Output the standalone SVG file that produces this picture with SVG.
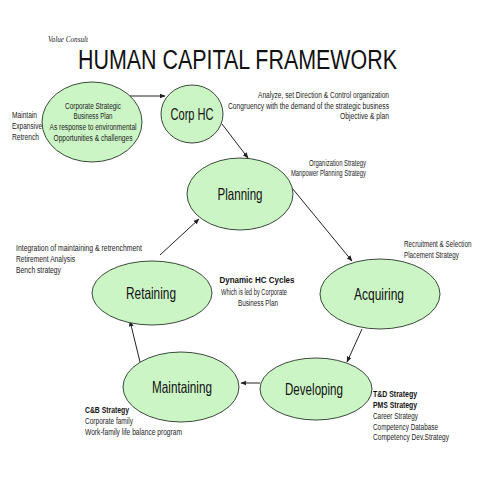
<svg xmlns="http://www.w3.org/2000/svg" width="480" height="480" viewBox="0 0 480 480">
<style>
.node{fill:#ccf5c6;stroke:#3a4a3a;stroke-width:1}
.lbl{font-family:"Liberation Sans",Arial,sans-serif;font-size:16.5px;fill:#111;text-anchor:middle}
.t{font-family:"Liberation Sans",Arial,sans-serif;font-size:8.5px;fill:#222}
.b{font-weight:bold;fill:#111}
.m{text-anchor:middle}
.e{text-anchor:end}
.conn line{stroke:#222;stroke-width:1;marker-end:url(#ah)}
</style>
<defs>
<marker id="ah" viewBox="0 0 10 10" refX="9" refY="5" markerWidth="6" markerHeight="6" orient="auto" markerUnits="userSpaceOnUse">
<path d="M0,1 L10,5 L0,9 z" fill="#222"/>
</marker>
</defs>
<rect width="480" height="480" fill="#fff"/>
<text x="48" y="42" font-family="Liberation Serif,serif" font-style="italic" font-size="9" fill="#222" textLength="40" lengthAdjust="spacingAndGlyphs">Value Consult</text>
<text x="78" y="69" font-family="Liberation Sans,Arial,sans-serif" font-size="27" fill="#111" textLength="319" lengthAdjust="spacingAndGlyphs">HUMAN CAPITAL FRAMEWORK</text>

<g id="conns" class="conn">
<line x1="125" y1="96" x2="165" y2="96"/>
<line x1="222" y1="124" x2="248" y2="158"/>
<line x1="292" y1="188" x2="352" y2="261"/>
<line x1="362" y1="329" x2="347" y2="362"/>
<line x1="260" y1="383" x2="241" y2="383"/>
<line x1="140" y1="362" x2="130" y2="321"/>
<line x1="160" y1="255" x2="199" y2="219"/>
</g>

<g id="corp-strategic">
<ellipse class="node" cx="92" cy="122" rx="50" ry="40"/>
<text class="t m" x="93" y="109" textLength="56" lengthAdjust="spacingAndGlyphs">Corporate Strategic</text>
<text class="t m" x="93" y="119" textLength="39" lengthAdjust="spacingAndGlyphs">Business Plan</text>
<text class="t m" x="93" y="130" textLength="87" lengthAdjust="spacingAndGlyphs">As response to environmental</text>
<text class="t m" x="93" y="141" textLength="79" lengthAdjust="spacingAndGlyphs">Opportunities &amp; challenges</text>
</g>
<g id="corp-strategic-notes">
<text class="t" x="12" y="118" textLength="25" lengthAdjust="spacingAndGlyphs">Maintain</text>
<text class="t" x="12" y="129" textLength="30" lengthAdjust="spacingAndGlyphs">Expansive</text>
<text class="t" x="12" y="140" textLength="27" lengthAdjust="spacingAndGlyphs">Retrench</text>
</g>

<g id="corp-hc">
<ellipse class="node" cx="192" cy="114" rx="31" ry="29"/>
<text class="lbl" x="192" y="120" textLength="43" lengthAdjust="spacingAndGlyphs">Corp HC</text>
<text class="t e" x="389" y="98" textLength="131" lengthAdjust="spacingAndGlyphs">Analyze, set Direction &amp; Control organization</text>
<text class="t e" x="389" y="109" textLength="161" lengthAdjust="spacingAndGlyphs">Congruency with the demand of the strategic business</text>
<text class="t e" x="389" y="119" textLength="49" lengthAdjust="spacingAndGlyphs">Objective &amp; plan</text>
</g>

<g id="planning">
<ellipse class="node" cx="240" cy="194" rx="53" ry="36"/>
<text class="lbl" x="240" y="200" textLength="45" lengthAdjust="spacingAndGlyphs">Planning</text>
<text class="t e" x="366" y="166" textLength="57" lengthAdjust="spacingAndGlyphs">Organization Strategy</text>
<text class="t e" x="366" y="176" textLength="75" lengthAdjust="spacingAndGlyphs">Manpower Planning Strategy</text>
</g>

<g id="acquiring">
<ellipse class="node" cx="380" cy="294" rx="60" ry="35"/>
<text class="lbl" x="379" y="300" textLength="50" lengthAdjust="spacingAndGlyphs">Acquiring</text>
<text class="t" transform="translate(404,247) scale(0.74,1)" x="0" y="0">Recruitment &amp; Selection</text>
<text class="t" transform="translate(404,258) scale(0.74,1)" x="0" y="0">Placement Strategy</text>
</g>

<g id="developing">
<ellipse class="node" cx="316" cy="389" rx="56" ry="31"/>
<text class="lbl" x="314" y="395" textLength="58" lengthAdjust="spacingAndGlyphs">Developing</text>
<text class="t b" x="373" y="397" textLength="44" lengthAdjust="spacingAndGlyphs">T&amp;D Strategy</text>
<text class="t b" x="373" y="408" textLength="44" lengthAdjust="spacingAndGlyphs">PMS Strategy</text>
<text class="t" x="373" y="419" textLength="45" lengthAdjust="spacingAndGlyphs">Career Strategy</text>
<text class="t" x="373" y="430" textLength="65" lengthAdjust="spacingAndGlyphs">Competency Database</text>
<text class="t" x="373" y="440" textLength="76" lengthAdjust="spacingAndGlyphs">Competency Dev.Strategy</text>
</g>

<g id="maintaining">
<ellipse class="node" cx="181" cy="387" rx="58" ry="35"/>
<text class="lbl" x="182" y="393" textLength="60" lengthAdjust="spacingAndGlyphs">Maintaining</text>
<text class="t b" x="85" y="413" textLength="44" lengthAdjust="spacingAndGlyphs">C&amp;B Strategy</text>
<text class="t" x="85" y="424" textLength="48" lengthAdjust="spacingAndGlyphs">Corporate family</text>
<text class="t" x="85" y="435" textLength="97" lengthAdjust="spacingAndGlyphs">Work-family life balance program</text>
</g>

<g id="retaining">
<ellipse class="node" cx="152" cy="293" rx="60" ry="32"/>
<text class="lbl" x="151" y="299" textLength="50" lengthAdjust="spacingAndGlyphs">Retaining</text>
<text class="t" x="16" y="251" textLength="126" lengthAdjust="spacingAndGlyphs">Integration of maintaining &amp; retrenchment</text>
<text class="t" x="16" y="262" textLength="59" lengthAdjust="spacingAndGlyphs">Retirement Analysis</text>
<text class="t" x="16" y="273" textLength="45" lengthAdjust="spacingAndGlyphs">Bench strategy</text>
</g>

<g id="cycle-note">
<text class="t b m" x="257" y="283" font-size="9.5" textLength="75" lengthAdjust="spacingAndGlyphs">Dynamic HC Cycles</text>
<text class="t m" x="254" y="295" textLength="66" lengthAdjust="spacingAndGlyphs">Which is led by Corporate</text>
<text class="t m" x="258" y="306" textLength="40" lengthAdjust="spacingAndGlyphs">Business Plan</text>
</g>
</svg>
